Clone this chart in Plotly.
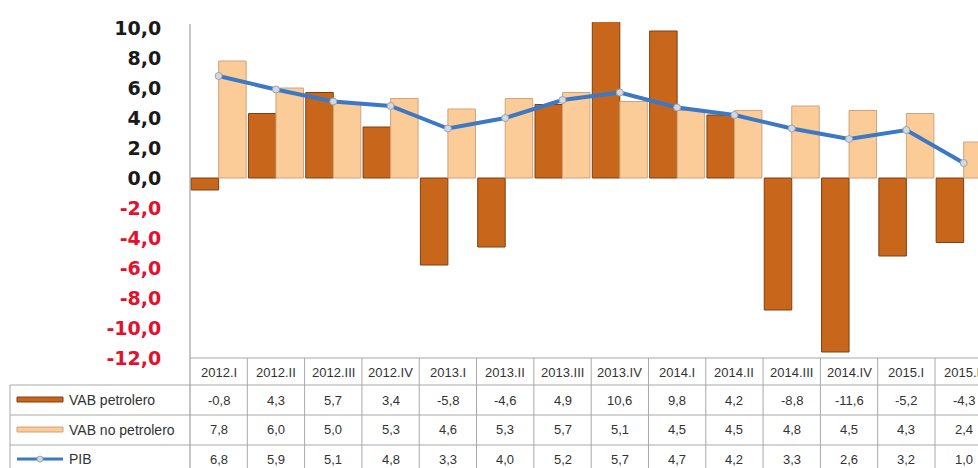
import plotly.graph_objects as go

categories = ["2012.I", "2012.II", "2012.III", "2012.IV", "2013.I", "2013.II", "2013.III",
              "2013.IV", "2014.I", "2014.II", "2014.III", "2014.IV", "2015.I", "2015.II"]
vab_petrolero = [-0.8, 4.3, 5.7, 3.4, -5.8, -4.6, 4.9, 10.6, 9.8, 4.2, -8.8, -11.6, -5.2, -4.3]
vab_no_petrolero = [7.8, 6.0, 5.0, 5.3, 4.6, 5.3, 5.7, 5.1, 4.5, 4.5, 4.8, 4.5, 4.3, 2.4]
pib = [6.8, 5.9, 5.1, 4.8, 3.3, 4.0, 5.2, 5.7, 4.7, 4.2, 3.3, 2.6, 3.2, 1.0]
series_names = ["VAB petrolero", "VAB no petrolero", "PIB"]
y_ticks = [10, 8, 6, 4, 2, 0, -2, -4, -6, -8, -10, -12]

W, H = 978, 468
L, R, T, B = 190, 0, 22, 110
xr = [-0.5, 13.25]
yr = [-12.0, 10.4]
plot_w = W - L - R
plot_h = H - T - B

C_PET = "#C8661C"
C_PET_LINE = "#7F4010"
C_NOPET = "#FBCB98"
C_NOPET_LINE = "#CDA480"
C_PIB = "#3C78C3"
GRID = "#A8A8A8"
TXT = "#333333"
FONT = "Liberation Sans"


def fmt(v):
    return f"{v:.1f}".replace(".", ",")


def py(px):  # pixel y -> paper y
    return (T + plot_h - px) / plot_h


def pxx(px):  # pixel x -> paper x
    return (px - L) / plot_w


def cat_paper(v):  # category coordinate -> paper x
    return (v - xr[0]) / (xr[1] - xr[0])


x_idx = list(range(len(categories)))

fig = go.Figure()
fig.add_trace(go.Bar(x=x_idx, y=vab_petrolero, name=series_names[0],
                     marker=dict(color=C_PET, line=dict(color=C_PET_LINE, width=1))))
fig.add_trace(go.Bar(x=x_idx, y=vab_no_petrolero, name=series_names[1],
                     marker=dict(color=C_NOPET, line=dict(color=C_NOPET_LINE, width=1))))
fig.add_trace(go.Scatter(x=x_idx, y=pib, name=series_names[2], mode="lines+markers",
                         line=dict(color=C_PIB, width=4),
                         marker=dict(size=7, color="#D3D9E2", line=dict(color="#9AA3B0", width=1))))

ticktext = []
for t in y_ticks:
    col = "#E3102E" if t < 0 else "#1A1A1A"
    ticktext.append(f'<span style="color:{col}">{fmt(t)}</span>')

fig.update_layout(
    width=W, height=H,
    margin=dict(l=L, r=R, t=T, b=B),
    paper_bgcolor="white", plot_bgcolor="white",
    barmode="group", bargap=0.04, bargroupgap=0.0,
    showlegend=False,
    xaxis=dict(range=xr, showticklabels=False, showgrid=False, zeroline=False,
               showline=False, ticks=""),
    yaxis=dict(range=yr, tickvals=y_ticks, ticktext=ticktext, showgrid=False,
               zeroline=False, showline=False, ticks="outside", ticklen=24,
               tickcolor="rgba(0,0,0,0)",
               tickfont=dict(family="DejaVu Sans", size=19, weight="bold")),
)

shapes = []
line_style = dict(color=GRID, width=1)
# y-axis line continued through the table
shapes.append(dict(type="line", xref="paper", yref="paper", x0=0, x1=0,
                   y0=py(24), y1=py(H + 10), line=dict(color="#8C8C8C", width=1)))
# x-axis / table top line
shapes.append(dict(type="line", xref="paper", yref="paper", x0=0, x1=1.01,
                   y0=0, y1=0, line=line_style))
# horizontal row lines
for ypx in [385, 415, 445]:
    shapes.append(dict(type="line", xref="paper", yref="paper", x0=pxx(10), x1=1.01,
                       y0=py(ypx), y1=py(ypx), line=line_style))
# left table edge
shapes.append(dict(type="line", xref="paper", yref="paper", x0=pxx(10), x1=pxx(10),
                   y0=py(385), y1=py(H + 10), line=line_style))
# column separators
for i in range(len(categories)):
    xb = cat_paper(i + 0.5)
    if xb <= 1.0:
        shapes.append(dict(type="line", xref="paper", yref="paper", x0=xb, x1=xb,
                           y0=0, y1=py(H + 10), line=line_style))
# legend swatches in the table
shapes.append(dict(type="rect", xref="paper", yref="paper", x0=pxx(17), x1=pxx(63),
                   y0=py(402), y1=py(397), fillcolor=C_PET, line=dict(color=C_PET_LINE, width=1)))
shapes.append(dict(type="rect", xref="paper", yref="paper", x0=pxx(17), x1=pxx(63),
                   y0=py(432), y1=py(427), fillcolor=C_NOPET, line=dict(color=C_NOPET_LINE, width=1)))
shapes.append(dict(type="line", xref="paper", yref="paper", x0=pxx(17), x1=pxx(63),
                   y0=py(459), y1=py(459), line=dict(color=C_PIB, width=3)))
shapes.append(dict(type="circle", xref="paper", yref="paper", x0=pxx(37), x1=pxx(43),
                   y0=py(462), y1=py(456), fillcolor="#D3D9E2", line=dict(color="#9AA3B0", width=1)))
fig.update_layout(shapes=shapes)

ann = []
for i, c in enumerate(categories):
    ann.append(dict(x=i, y=py(372), xref="x", yref="paper", text=c, showarrow=False,
                    font=dict(family=FONT, size=13, color=TXT), xanchor="center", yanchor="middle"))
row_y = [400, 430, 459]
for vals, yy in zip([vab_petrolero, vab_no_petrolero, pib], row_y):
    for i, v in enumerate(vals):
        ann.append(dict(x=i, y=py(yy), xref="x", yref="paper", text=fmt(v), showarrow=False,
                        font=dict(family=FONT, size=13, color=TXT), xanchor="center", yanchor="middle"))
for name, yy in zip(series_names, row_y):
    ann.append(dict(x=pxx(67), y=py(yy), xref="paper", yref="paper", text=name, showarrow=False,
                    font=dict(family=FONT, size=14, color=TXT), xanchor="left", yanchor="middle"))
fig.update_layout(annotations=ann)

fig.write_html("out.html", config={"displayModeBar": False},
               post_script="document.body.style.margin='0';document.body.style.overflow='hidden';")
